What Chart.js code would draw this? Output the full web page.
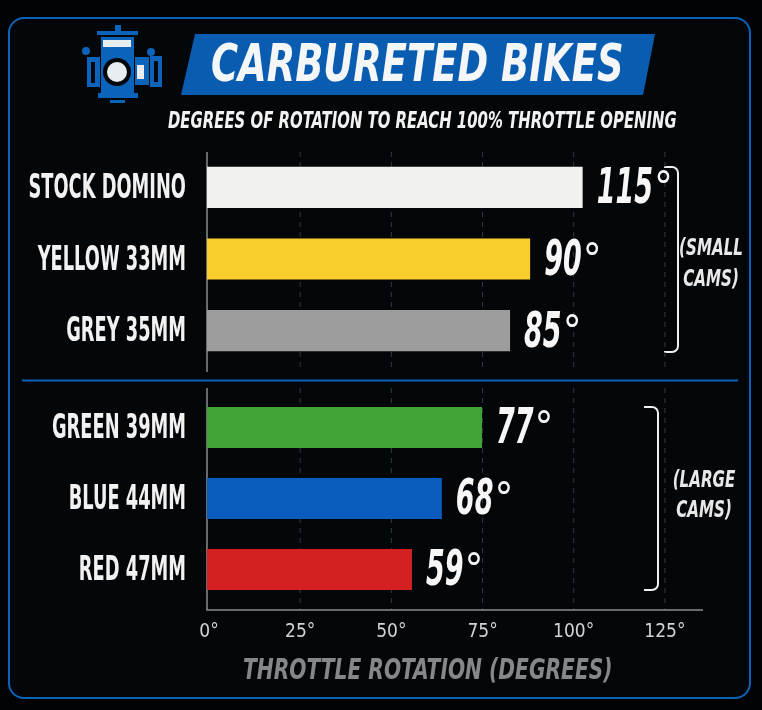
<!DOCTYPE html>
<html>
<head>
<meta charset="utf-8">
<title>Carbureted Bikes</title>
<script src="https://cdn.jsdelivr.net/npm/chart.js@4"></script>
<style>
  html, body { margin: 0; padding: 0; background: #020304; }
  #wrap { position: relative; width: 762px; height: 710px; overflow: hidden; }
  canvas { position: absolute; left: 0; top: 0; }
</style>
</head>
<body>
<div id="wrap">
  <canvas id="smallCams" width="762" height="710"></canvas>
  <canvas id="largeCams" width="762" height="710"></canvas>
</div>
<script>
// ===============================
// DATA
// ===============================
const smallLabels = ["STOCK DOMINO", "YELLOW 33MM", "GREY 35MM"];
const largeLabels = ["GREEN 39MM", "BLUE 44MM", "RED 47MM"];

// bar lengths read against the axis (the bars in the picture do not reach their printed numbers)
const smallLengths = [103, 88.6, 83.1];
const largeLengths = [75.4, 64.4, 56.2];

// numbers printed next to the bars
const smallPrinted = [115, 90, 85];
const largePrinted = [77, 68, 59];

const smallColors = ["#f1f1ee", "#f8cd2c", "#9d9d9d"];
const largeColors = ["#41a535", "#0a5cbd", "#d42020"];

const tickLabels = ["0°", "25°", "50°", "75°", "100°", "125°"];

const NARROW = '"DejaVu Sans Condensed", "Liberation Sans Narrow", sans-serif';
const BLUE = "#0b64ba";

// text squeezed sideways, the reference uses a tall condensed face
function squeezed(ctx, str, x, y, font, sx, color, align) {
    ctx.save();
    ctx.font = font;
    ctx.fillStyle = color;
    ctx.textBaseline = "middle";
    ctx.textAlign = align || "left";
    ctx.translate(x, y);
    ctx.scale(sx, 1);
    ctx.fillText(str, 0, 0);
    ctx.restore();
}

// ===============================
// PAGE DECORATION (drawn once, behind the top chart)
// ===============================
function drawIcon(ctx) {
    ctx.fillStyle = BLUE;
    ctx.fillRect(115, 25, 6, 6);
    ctx.fillRect(97, 31, 41, 4);
    ctx.fillRect(101, 37, 33, 57);
    ctx.fillRect(98, 93, 40, 5);
    ctx.fillRect(110, 100, 15, 3);
    ctx.fillRect(87, 57, 13, 30);
    ctx.fillRect(135, 57, 14, 28);
    ctx.fillRect(150, 56, 12, 31);
    ctx.beginPath();
    ctx.arc(86, 51, 4, 0, Math.PI * 2);
    ctx.arc(151, 52, 4, 0, Math.PI * 2);
    ctx.fill();
    ctx.fillStyle = "#e8edf2";
    ctx.fillRect(103, 40, 28, 7);
    ctx.fillStyle = "#04070b";
    ctx.beginPath();
    ctx.arc(117, 72, 14, 0, Math.PI * 2);
    ctx.fill();
    ctx.fillRect(91, 62, 4, 21);
    ctx.fillRect(154, 61, 4, 21);
    ctx.fillStyle = "#e8edf2";
    ctx.beginPath();
    ctx.arc(117, 72, 10, 0, Math.PI * 2);
    ctx.fill();
    ctx.fillRect(137, 65, 7, 14);
}

const pageDecor = {
    id: "pageDecor",
    beforeDraw(chart) {
        const ctx = chart.ctx;
        ctx.save();
        ctx.fillStyle = "#020304";
        ctx.fillRect(0, 0, 762, 710);

        ctx.beginPath();
        ctx.roundRect(9, 18, 741, 680, 15);
        ctx.fillStyle = "#04070a";
        ctx.fill();
        ctx.strokeStyle = BLUE;
        ctx.lineWidth = 2;
        ctx.stroke();

        ctx.beginPath();
        ctx.moveTo(22, 380.5);
        ctx.lineTo(738, 380.5);
        ctx.stroke();

        drawIcon(ctx);

        // title banner
        ctx.beginPath();
        ctx.moveTo(195, 34);
        ctx.lineTo(655, 34);
        ctx.lineTo(643, 95);
        ctx.lineTo(181, 95);
        ctx.closePath();
        ctx.fillStyle = "#0a5cb1";
        ctx.fill();

        squeezed(ctx, "CARBURETED BIKES", 211, 67, 'italic bold 52px ' + NARROW, 0.79, "#f4f6f8");
        squeezed(ctx, "DEGREES OF ROTATION TO REACH 100% THROTTLE OPENING", 168, 122, 'italic bold 23px ' + NARROW, 0.72, "#f2f2f2");
        squeezed(ctx, "THROTTLE ROTATION (DEGREES)", 243, 671, 'italic bold 29px ' + NARROW, 0.775, "#85878a");

        // brackets
        ctx.strokeStyle = "#f0f0f0";
        ctx.lineWidth = 2;
        ctx.beginPath();
        ctx.moveTo(664, 167);
        ctx.arcTo(678, 167, 678, 352, 6);
        ctx.arcTo(678, 352, 664, 352, 6);
        ctx.lineTo(664, 352);
        ctx.moveTo(644, 407);
        ctx.arcTo(658, 407, 658, 590, 6);
        ctx.arcTo(658, 590, 644, 590, 6);
        ctx.lineTo(644, 590);
        ctx.stroke();

        const capFont = 'italic bold 23px ' + NARROW;
        squeezed(ctx, "(SMALL", 711, 249, capFont, 0.73, "#e8e8e8", "center");
        squeezed(ctx, "CAMS)", 711, 280, capFont, 0.73, "#e8e8e8", "center");
        squeezed(ctx, "(LARGE", 704, 481, capFont, 0.73, "#e8e8e8", "center");
        squeezed(ctx, "CAMS)", 704, 511, capFont, 0.73, "#e8e8e8", "center");
        ctx.restore();
    }
};

// ===============================
// AXIS LINES, DASHED GRID, LABELS
// ===============================
const axisDecor = {
    id: "axisDecor",
    beforeDatasetsDraw(chart, args, opts) {
        const ctx = chart.ctx;
        const x = chart.scales.x;
        ctx.save();
        ctx.strokeStyle = "#33373b";
        ctx.lineWidth = 1;
        ctx.setLineDash([5, 5]);
        x.ticks.forEach((t, i) => {
            if (i === 0) return;
            const px = x.getPixelForTick(i) + 2;
            ctx.beginPath();
            ctx.moveTo(px, opts.from);
            ctx.lineTo(px, opts.to);
            ctx.stroke();
        });
        ctx.setLineDash([]);
        ctx.strokeStyle = "#8c8c8c";
        ctx.lineWidth = 1.5;
        ctx.beginPath();
        ctx.moveTo(x.left, opts.from);
        ctx.lineTo(x.left, opts.to);
        if (opts.baseline) {
            ctx.lineTo(x.right, opts.to);
        }
        ctx.stroke();
        ctx.restore();
    },
    afterDatasetsDraw(chart, args, opts) {
        const ctx = chart.ctx;
        const y = chart.scales.y;
        const bars = chart.getDatasetMeta(0).data;
        y.getLabels().forEach((label, i) => {
            squeezed(ctx, label, 186, y.getPixelForTick(i) + 2, 'bold 33px ' + NARROW, 0.6, "#f2f2f2", "right");
            const left = bars[i].x + 14;
            const num = String(opts.printed[i]);
            const font = 'italic bold 50px ' + NARROW;
            squeezed(ctx, num, left, bars[i].y + 3, font, 0.6, "#f7f7f7");
            ctx.font = font;
            const w = ctx.measureText(num).width * 0.6;
            squeezed(ctx, "°", left + w + 1, bars[i].y + 4, '42px ' + NARROW, 1, "#f7f7f7");
        });
    }
};

// ===============================
// CHARTS
// ===============================
function camChart(id, labels, lengths, colors, printed, padding, decor, showAxis, plugins) {
    return new Chart(document.getElementById(id), {
        type: "bar",
        data: {
            labels: labels,
            datasets: [{
                data: lengths,
                backgroundColor: colors,
                categoryPercentage: 1,
                barPercentage: 0.575
            }]
        },
        options: {
            indexAxis: "y",
            responsive: false,
            animation: false,
            layout: { padding: padding },
            plugins: {
                legend: { display: false },
                tooltip: { enabled: false },
                axisDecor: Object.assign({ printed: printed }, decor)
            },
            scales: {
                x: {
                    min: 0,
                    max: 136,
                    display: showAxis,
                    border: { display: false },
                    grid: { display: false },
                    ticks: {
                        stepSize: 25,
                        includeBounds: false,
                        maxRotation: 0,
                        padding: 8,
                        labelOffset: 2,
                        color: "#d4d4d4",
                        font: { family: NARROW, size: 19 },
                        callback: (v, i) => tickLabels[i]
                    },
                    afterFit(scale) { if (showAxis) scale.height = 105; }
                },
                y: {
                    border: { display: false },
                    grid: { display: false },
                    ticks: { display: false },
                    afterFit(scale) { scale.width = 207; }
                }
            }
        },
        plugins: plugins
    });
}

camChart("smallCams", smallLabels, smallLengths, smallColors, smallPrinted,
    { left: 0, right: 59, top: 151.5, bottom: 343.5 },
    { from: 152, to: 372, baseline: false }, false, [pageDecor, axisDecor]);

camChart("largeCams", largeLabels, largeLengths, largeColors, largePrinted,
    { left: 0, right: 59, top: 392, bottom: 0 },
    { from: 388, to: 610, baseline: true }, true, [axisDecor]);
</script>
</body>
</html>
